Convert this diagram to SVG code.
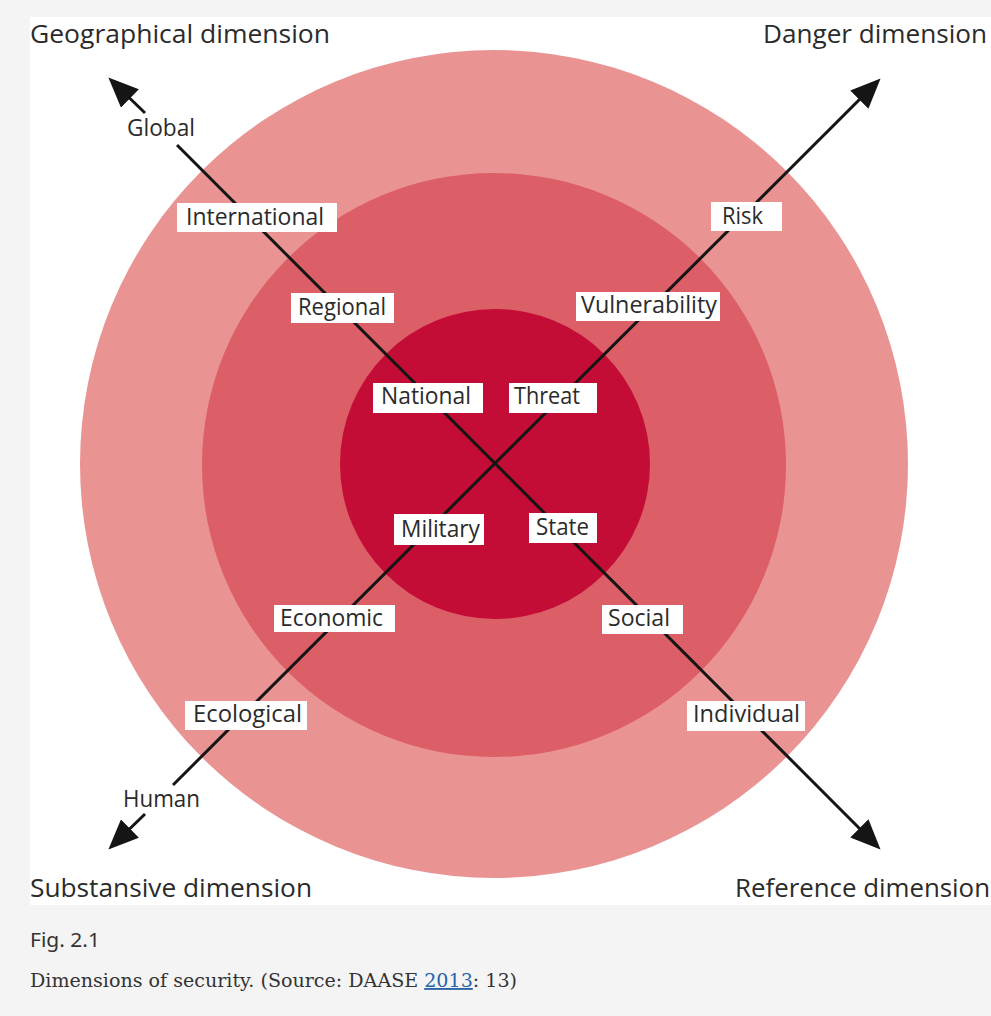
<svg xmlns="http://www.w3.org/2000/svg" width="991" height="1016" viewBox="0 0 991 1016">
<style>
.lbl{font-family:"Open Sans","Liberation Sans",sans-serif;font-size:23px;fill:#2b2b2b}
.ttl{font-family:"Open Sans","Liberation Sans",sans-serif;font-size:26px;fill:#2b2b2b}
.box{fill:#ffffff}
.axis{stroke:#151515;stroke-width:3;fill:none}
.cap{font-family:"DejaVu Serif","Liberation Serif",serif;font-size:18.5px;fill:#333333}
</style>
<defs>
<marker id="ah" markerUnits="userSpaceOnUse" markerWidth="30" markerHeight="26" viewBox="0 0 28 24" refX="22" refY="12" orient="auto">
<path d="M0,0 L28,12 L0,24 z" fill="#151515"/>
</marker>
</defs>
<rect x="0" y="0" width="991" height="1016" fill="#f4f4f4"/>
<rect x="30" y="17" width="961" height="888" fill="#ffffff"/>
<g id="rings">
<circle cx="494" cy="464" r="414" fill="#ea9393"/>
<circle cx="494" cy="465" r="292" fill="#dc5e67"/>
<circle cx="495" cy="464" r="155" fill="#c30d36"/>
</g>
<g id="connectors">
<line class="axis" x1="145" y1="113" x2="113" y2="82" marker-end="url(#ah)"/>
<line class="axis" x1="177" y1="145" x2="876" y2="845" marker-end="url(#ah)"/>
<line class="axis" x1="145" y1="814" x2="113" y2="845" marker-end="url(#ah)"/>
<line class="axis" x1="173" y1="785" x2="876" y2="83" marker-end="url(#ah)"/>
</g>
<g id="title-geographical"><text class="ttl" x="30" y="43" textLength="300" lengthAdjust="spacingAndGlyphs">Geographical dimension</text></g>
<g id="title-danger"><text class="ttl" x="763" y="43" textLength="224" lengthAdjust="spacingAndGlyphs">Danger dimension</text></g>
<g id="title-substansive"><text class="ttl" x="30" y="897" textLength="282" lengthAdjust="spacingAndGlyphs">Substansive dimension</text></g>
<g id="title-reference"><text class="ttl" x="735" y="897" textLength="255" lengthAdjust="spacingAndGlyphs">Reference dimension</text></g>
<g id="global"><text class="lbl" x="127" y="136" textLength="68" lengthAdjust="spacingAndGlyphs">Global</text></g>
<g id="human"><text class="lbl" x="123" y="807" textLength="77" lengthAdjust="spacingAndGlyphs">Human</text></g>
<g id="international"><rect class="box" x="177" y="203" width="160" height="29"/><text class="lbl" x="186" y="225" textLength="138" lengthAdjust="spacingAndGlyphs">International</text></g>
<g id="regional"><rect class="box" x="291" y="293" width="103" height="30"/><text class="lbl" x="298" y="315" textLength="88" lengthAdjust="spacingAndGlyphs">Regional</text></g>
<g id="national"><rect class="box" x="373" y="383" width="110" height="30"/><text class="lbl" x="381" y="404" textLength="90" lengthAdjust="spacingAndGlyphs">National</text></g>
<g id="threat"><rect class="box" x="509" y="383" width="88" height="30"/><text class="lbl" x="514" y="404" textLength="66" lengthAdjust="spacingAndGlyphs">Threat</text></g>
<g id="military"><rect class="box" x="394" y="514" width="90" height="31"/><text class="lbl" x="401" y="537" textLength="79" lengthAdjust="spacingAndGlyphs">Military</text></g>
<g id="state"><rect class="box" x="529" y="513" width="68" height="30"/><text class="lbl" x="536" y="535" textLength="53" lengthAdjust="spacingAndGlyphs">State</text></g>
<g id="risk"><rect class="box" x="711" y="202" width="71" height="29"/><text class="lbl" x="722" y="224" textLength="41" lengthAdjust="spacingAndGlyphs">Risk</text></g>
<g id="vulnerability"><rect class="box" x="576" y="292" width="144" height="29"/><text class="lbl" x="581" y="313" textLength="136" lengthAdjust="spacingAndGlyphs">Vulnerability</text></g>
<g id="economic"><rect class="box" x="274" y="605" width="121" height="27"/><text class="lbl" x="280" y="626" textLength="103" lengthAdjust="spacingAndGlyphs">Economic</text></g>
<g id="ecological"><rect class="box" x="185" y="701" width="122" height="29"/><text class="lbl" x="193" y="722" textLength="109" lengthAdjust="spacingAndGlyphs">Ecological</text></g>
<g id="social"><rect class="box" x="602" y="605" width="81" height="29"/><text class="lbl" x="608" y="626" textLength="62" lengthAdjust="spacingAndGlyphs">Social</text></g>
<g id="individual"><rect class="box" x="687" y="701" width="118" height="30"/><text class="lbl" x="693" y="722" textLength="107" lengthAdjust="spacingAndGlyphs">Individual</text></g>
<g id="caption">
<text x="30" y="947" style="font-family:'Noto Sans','Open Sans',sans-serif;font-size:19px;fill:#333333" textLength="70" lengthAdjust="spacingAndGlyphs">Fig. 2.1</text>
<text class="cap" x="30" y="987" textLength="487" lengthAdjust="spacingAndGlyphs">Dimensions of security. (Source: DAASE <tspan fill="#2a62a8" text-decoration="underline">2013</tspan>: 13)</text>
</g>
</svg>
